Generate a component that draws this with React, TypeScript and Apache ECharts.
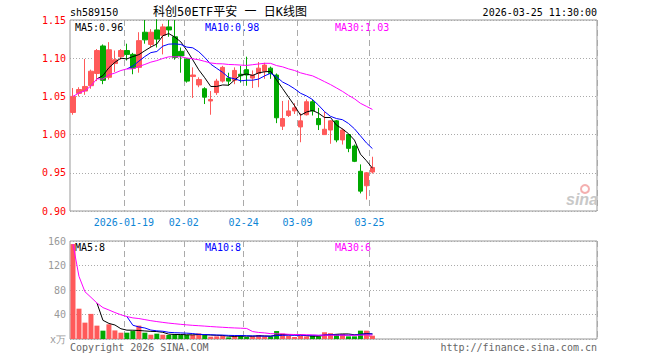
import React, { useEffect, useRef } from "react";
import * as echarts from "echarts";

const DATES = [
  "2026-01-06","2026-01-07","2026-01-08","2026-01-09","2026-01-12","2026-01-13","2026-01-14","2026-01-15","2026-01-16",
  "2026-01-19","2026-01-20","2026-01-21","2026-01-22","2026-01-23","2026-01-26","2026-01-27","2026-01-28","2026-01-29","2026-01-30",
  "2026-02-02","2026-02-03","2026-02-04","2026-02-05","2026-02-06","2026-02-09","2026-02-10","2026-02-11","2026-02-12","2026-02-13",
  "2026-02-24","2026-02-25","2026-02-26","2026-02-27",
  "2026-03-02","2026-03-03","2026-03-04","2026-03-05","2026-03-06","2026-03-09","2026-03-10","2026-03-11","2026-03-12","2026-03-13",
  "2026-03-16","2026-03-17","2026-03-18","2026-03-19","2026-03-20","2026-03-23","2026-03-24","2026-03-25",
];
const OPEN = [1.029,1.054,1.057,1.064,1.080,1.116,1.075,1.093,1.102,1.110,1.105,1.088,1.134,1.118,1.137,1.130,1.141,1.128,1.109,1.099,1.076,1.065,1.060,1.044,1.055,1.070,1.074,1.071,1.079,1.085,1.074,1.080,1.083,1.087,1.078,1.011,1.025,1.031,1.010,1.026,1.043,1.021,1.000,1.006,1.018,0.993,1.000,0.985,0.952,0.933,0.951];
const CLOSE = [1.050,1.059,1.063,1.083,1.110,1.071,1.111,1.098,1.110,1.105,1.087,1.123,1.124,1.134,1.125,1.141,1.137,1.101,1.103,1.070,1.078,1.072,1.049,1.046,1.070,1.088,1.070,1.084,1.077,1.078,1.078,1.087,1.091,1.080,1.022,1.021,1.031,1.035,1.018,1.043,1.031,1.013,1.007,1.018,0.993,1.006,0.982,0.965,0.926,0.950,0.957];
const LOW = [1.026,1.050,1.052,1.060,1.070,1.066,1.072,1.082,1.098,1.097,1.079,1.081,1.119,1.114,1.114,1.105,1.128,1.098,1.081,1.068,1.048,1.062,1.040,1.026,1.052,1.068,1.064,1.066,1.068,1.064,1.061,1.062,1.073,1.073,1.015,1.006,1.023,1.027,0.990,1.025,1.025,1.006,1.000,0.988,0.990,0.987,0.977,0.964,0.923,0.915,0.949];
const HIGH = [1.061,1.062,1.099,1.085,1.112,1.118,1.121,1.110,1.112,1.119,1.107,1.134,1.150,1.138,1.151,1.145,1.150,1.150,1.114,1.100,1.088,1.075,1.062,1.057,1.073,1.090,1.081,1.088,1.090,1.102,1.084,1.095,1.094,1.089,1.080,1.044,1.045,1.041,1.028,1.046,1.046,1.035,1.030,1.019,1.019,1.008,1.001,0.987,0.961,0.951,0.971];
const VOLUME = [155,49.5,26.7,41,21.8,13.6,24,14,10.3,10.3,13,21.8,10.3,7,8.7,7,6.5,8,6.5,6.5,6.5,9.2,6.5,3.8,4.3,5.4,2.7,5.4,6.5,3.3,4.3,6.5,4.3,4.3,13,8.8,5.4,3.3,5.4,4.3,5.4,4.3,11,9.5,8.2,8.2,4.3,4.3,13.6,13.6,5.4];
const LABEL_DATES = ["2026-01-19","2026-02-02","2026-02-24","2026-03-09","2026-03-25"];
const SLOTS = 88;

const UP = "#ff5a5a";
const DOWN = "#00a800";
const MONO = "DejaVu Sans Mono, monospace";

function ma(arr: number[], n: number, partial: boolean): (number | string)[] {
  return arr.map((_, i) => {
    if (i < n - 1 && !partial) return "-";
    const s = Math.max(0, i - n + 1);
    let sum = 0;
    for (let k = s; k <= i; k++) sum += arr[k];
    return sum / (i - s + 1);
  });
}

export default function App() {
  const ref = useRef<HTMLDivElement>(null);
  useEffect(() => {
    if (!ref.current) return;
    const chart = echarts.init(ref.current, null, { renderer: "svg" });
    const cats = DATES.concat(Array.from({ length: SLOTS - DATES.length }, () => ""));
    const labelIdx = LABEL_DATES.map((d) => DATES.indexOf(d));
    const ma5 = ma(CLOSE, 5, false), ma10 = ma(CLOSE, 10, false), ma30 = ma(CLOSE, 30, true);
    const v5 = ma(VOLUME, 5, false), v10 = ma(VOLUME, 10, false), v30 = ma(VOLUME, 30, true);
    const last = (a: (number | string)[]) => a[a.length - 1] as number;
    const upDown = CLOSE.map((c, i) => c >= OPEN[i]);

    const vline = {
      show: true,
      interval: (idx: number) => labelIdx.includes(idx),
      lineStyle: { color: "#aaaaaa", type: [6, 4], width: 1 },
    };
    const hline = { show: true, lineStyle: { color: "#aaaaaa", type: [1, 2], width: 1 } };
    const lineS = (name: string, data: any, color: string, xi: number) => ({
      name, type: "line", data, xAxisIndex: xi, yAxisIndex: xi, symbol: "none",
      lineStyle: { color, width: 1 }, itemStyle: { color }, silent: true,
    });
    const txt = (text: string, x: number, y: number, fill: string, align = "left", font = `10px ${MONO}`) => ({
      type: "text", x, y, silent: true,
      style: { text, fill, font, align, verticalAlign: "middle" },
    });

    chart.setOption({
      animation: false,
      backgroundColor: "#ffffff",
      grid: [
        { left: 70, top: 20, width: 527, height: 191, show: true, borderColor: "#999999", borderWidth: 1 },
        { left: 70, top: 241, width: 527, height: 98, show: true, borderColor: "#999999", borderWidth: 1 },
      ],
      xAxis: [
        {
          type: "category", gridIndex: 0, data: cats, boundaryGap: true,
          axisLine: { show: false }, axisTick: { show: false },
          axisLabel: {
            interval: (idx: number) => labelIdx.includes(idx),
            formatter: (v: string, idx: number) => (idx === labelIdx[0] ? v : v.slice(5)),
            color: "#0f86d6", fontFamily: MONO, fontSize: 10, margin: 6, padding: [0, 6, 0, 0],
          },
          splitLine: vline,
        },
        {
          type: "category", gridIndex: 1, data: cats, boundaryGap: true,
          axisLine: { show: false }, axisTick: { show: false }, axisLabel: { show: false },
          splitLine: vline,
        },
      ],
      yAxis: [
        {
          type: "value", gridIndex: 0, min: 0.9, max: 1.15, interval: 0.05,
          axisLine: { show: false }, axisTick: { show: false },
          axisLabel: { color: "#ff0000", fontFamily: MONO, fontSize: 10, margin: 4, formatter: (v: number) => v.toFixed(2) },
          splitLine: hline,
        },
        {
          type: "value", gridIndex: 1, min: 0, max: 160, interval: 40,
          axisLine: { show: false }, axisTick: { show: false },
          axisLabel: { color: "#999999", fontFamily: MONO, fontSize: 10, margin: 4, formatter: (v: number) => (v === 0 ? "x万" : String(v)) },
          splitLine: hline,
        },
      ],
      series: [
        {
          type: "candlestick", xAxisIndex: 0, yAxisIndex: 0, barWidth: 5,
          data: DATES.map((_, i) => [OPEN[i], CLOSE[i], LOW[i], HIGH[i]]),
          itemStyle: { color: UP, color0: DOWN, borderColor: UP, borderColor0: DOWN, borderWidth: 1 },
          silent: true,
        },
        lineS("MA5", ma5, "#000000", 0),
        lineS("MA10", ma10, "#0000ff", 0),
        lineS("MA30", ma30, "#ff00ff", 0),
        {
          type: "bar", xAxisIndex: 1, yAxisIndex: 1, barWidth: 5, silent: true,
          data: VOLUME.map((v, i) => ({ value: v, itemStyle: { color: upDown[i] ? UP : DOWN } })),
        },
        lineS("VMA5", v5, "#000000", 1),
        lineS("VMA10", v10, "#0000ff", 1),
        lineS("VMA30", v30, "#ff00ff", 1),
      ],
      graphic: [
        txt("sh589150", 70, 12, "#000000"),
        txt("科创50ETF平安 一 日K线图", 230, 12, "#000000", "center", `12px ${MONO}, "Noto Sans CJK SC"`),
        txt("2026-03-25 11:30:00", 597, 12, "#000000", "right"),
        txt(`MA5:${last(ma5).toFixed(2)}`, 75, 27, "#000000"),
        txt(`MA10:${last(ma10).toFixed(2)}`, 205, 27, "#0000ff"),
        txt(`MA30:${last(ma30).toFixed(2)}`, 335, 27, "#ff00ff"),
        txt(`MA5:${Math.round(last(v5))}`, 75, 247, "#000000"),
        txt(`MA10:${Math.round(last(v10))}`, 205, 247, "#0000ff"),
        txt(`MA30:${Math.round(last(v30))}`, 335, 247, "#ff00ff"),
        txt("Copyright 2026 SINA.COM", 70, 347, "#666666"),
        txt("http://finance.sina.com.cn", 597, 347, "#666666", "right"),
        { type: "circle", silent: true, shape: { cx: 585, cy: 189, r: 4 }, style: { fill: "none", stroke: "#f4b0b0", lineWidth: 2 } },
        txt("sina", 566, 199, "#c8c8c8", "left", "italic bold 16px sans-serif"),
      ],
    });
    return () => chart.dispose();
  }, []);
  return <div ref={ref} style={{ position: "absolute", left: 0, top: 0, width: 660, height: 360, background: "#fff" }} />;
}
